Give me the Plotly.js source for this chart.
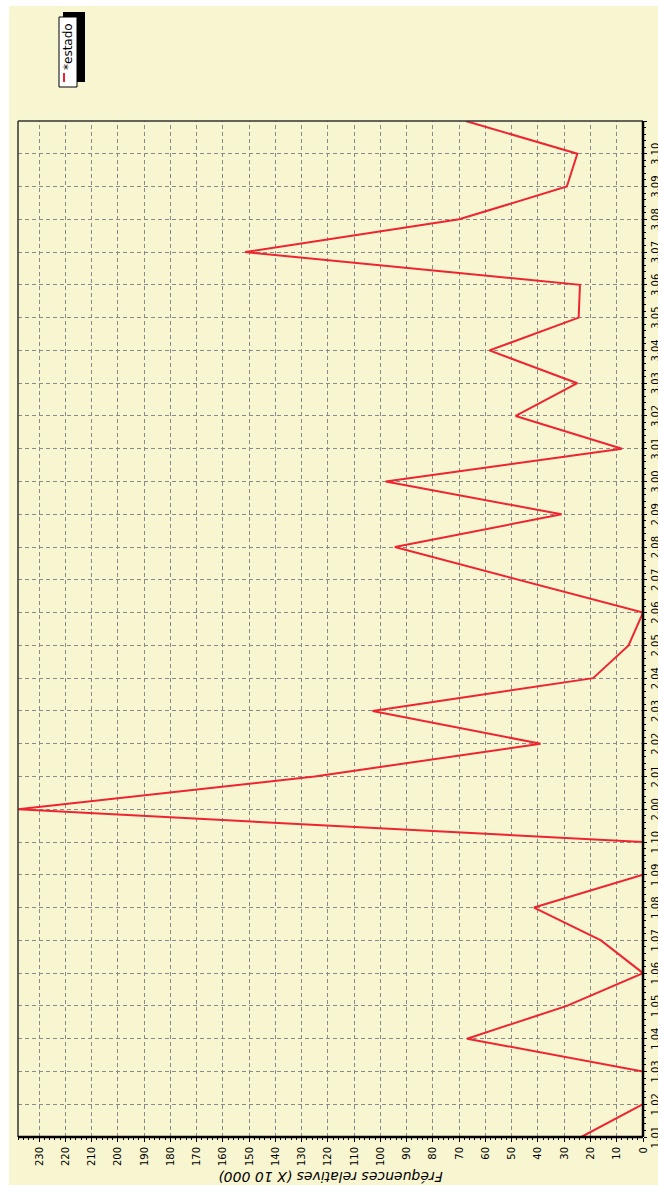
<!DOCTYPE html>
<html>
<head>
<meta charset="utf-8">
<script src="https://cdn.plot.ly/plotly-3.0.1.min.js"></script>
<style>
html,body{margin:0;padding:0;background:#ffffff;overflow:hidden;width:658px;height:1186px;}
#rot{position:absolute;left:0;top:0;width:1186px;height:658px;transform-origin:0 0;transform:translate(0px,1186px) rotate(-90deg);background:#ffffff;}
#chart{position:absolute;left:1px;top:9px;width:1179px;height:649px;}
</style>
</head>
<body>
<div id="rot"><div id="chart"></div></div>
<script>
// ---- data ----
const categories = ['1.01','1.02','1.03','1.04','1.05','1.06','1.07','1.08','1.09','1.10',
                    '2.00','2.01','2.02','2.03','2.04','2.05','2.06','2.07','2.08','2.09',
                    '3.00','3.01','3.02','3.03','3.04','3.05','3.06','3.07','3.08','3.09','3.10',''];
const estado = [23.5,0,0,67,29,0,16,41.5,0,0,
                238,125,39,103,19,5.5,0,47,94.5,31,
                98,8,48.5,25,58.5,24.5,24,151.5,70,29,25,67.5];
const seriesName = '*estado';
const yTitle = 'Fréquences relatives (X 10 000)';
const yMax = 238;
const yStep = 10;

// ---- layout geometry (original, unrotated chart) ----
const W = 1179, H = 649;
const M = {l:48, r:115, t:9, b:15};
const PW = W - M.l - M.r, PH = H - M.t - M.b;
// convert div pixel coordinates to paper coordinates
const fx = x => (x - M.l) / PW;
const fy = y => 1 - (y - M.t) / PH;

const bg = '#F8F5D1';
const gridCol = '#8a8a8a';
const red = '#EE2530';
const font = 'DejaVu Sans, Verdana, sans-serif';

const xIdx = categories.map((c, i) => i);

const trace = {
  x: xIdx,
  y: estado,
  type: 'scatter',
  mode: 'lines',
  name: seriesName,
  line: {color: red, width: 2},
  showlegend: false,
  hoverinfo: 'skip'
};

const layout = {
  width: W, height: H,
  margin: M,
  paper_bgcolor: bg,
  plot_bgcolor: bg,
  showlegend: false,
  font: {family: font, size: 10, color: '#000'},
  xaxis: {
    type: 'linear',
    range: [0, categories.length - 1],
    tickmode: 'array',
    tickvals: xIdx,
    ticktext: categories,
    ticks: 'outside', ticklen: 3, tickwidth: 1, tickcolor: '#000',
    tickfont: {family: font, size: 10, color: '#000'},
    showgrid: true, gridcolor: gridCol, gridwidth: 1, griddash: '4px,3px',
    showline: false,
    zeroline: false,
    minor: {dtick: 0.2, tick0: 0, ticks: 'outside', ticklen: 2, tickcolor: '#000', showgrid: false},
    fixedrange: true
  },
  yaxis: {
    range: [0, yMax],
    tick0: 0, dtick: yStep,
    ticks: 'outside', ticklen: 4, tickwidth: 1, tickcolor: '#000',
    ticklabelstandoff: 3,
    tickfont: {family: font, size: 10, color: '#000'},
    showgrid: true, gridcolor: gridCol, gridwidth: 1, griddash: '4px,3px',
    showline: false,
    zeroline: false,
    minor: {dtick: 2, tick0: 0, ticks: 'outside', ticklen: 2, tickcolor: '#000', showgrid: false},
    title: {text: yTitle, font: {family: font, size: 14, color: '#000', style: 'italic'}, standoff: 2},
    fixedrange: true
  },
  shapes: [
    // thin frame on the two mirrored sides
    {type:'line', xref:'paper', yref:'paper', x0:0, x1:1, y0:1, y1:1, line:{color:'#333', width:1.5}, layer:'above'},
    {type:'line', xref:'paper', yref:'paper', x0:1, x1:1, y0:0, y1:1, line:{color:'#333', width:1.5}, layer:'above'},
    // heavy axis lines, centred on the plot edges
    {type:'line', xref:'paper', yref:'paper', x0:0, x1:1, y0:0, y1:0, line:{color:'#000', width:2.5}, layer:'above'},
    {type:'line', xref:'paper', yref:'paper', x0:0, x1:0, y0:0, y1:1, line:{color:'#000', width:2.5}, layer:'above'},
    // legend: shadow, box, line sample
    {type:'rect', xref:'paper', yref:'paper', x0:fx(1103), x1:fx(1173), y0:fy(54), y1:fy(76), fillcolor:'#000', line:{width:0}, layer:'above'},
    {type:'rect', xref:'paper', yref:'paper', x0:fx(1098), x1:fx(1168), y0:fy(50), y1:fy(68), fillcolor:'#fff', line:{color:'#000', width:1}, layer:'above'},
    {type:'line', xref:'paper', yref:'paper', x0:fx(1103), x1:fx(1112), y0:fy(55), y1:fy(55), line:{color:red, width:2}, layer:'above'}
  ],
  annotations: [
    {xref:'paper', yref:'paper', x:fx(1113), y:fy(59.5), xanchor:'left', yanchor:'middle',
     text: seriesName, showarrow:false, font:{family: font, size: 12, color:'#000'}}
  ]
};

Plotly.newPlot('chart', [trace], layout, {displayModeBar:false, staticPlot:true});
</script>
</body>
</html>
